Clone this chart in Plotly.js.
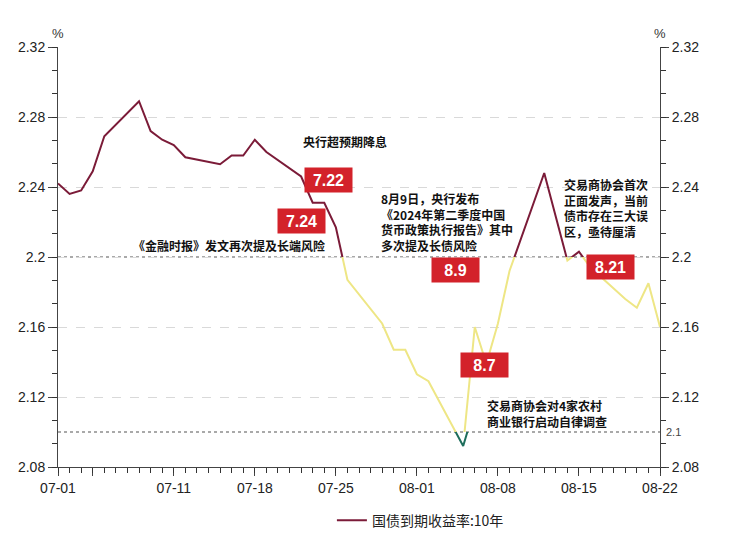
<!DOCTYPE html>
<html>
<head>
<meta charset="utf-8">
<script src="https://cdn.plot.ly/plotly-3.0.1.min.js"></script>
<style>
  body { margin: 0; background: #fff; }
  #chart { width: 734px; height: 535px; }
</style>
</head>
<body>
<div id="chart"></div>
<script>
// ----------------------------- data -----------------------------------------
var dates = [
  '2024-07-01', '2024-07-02', '2024-07-03', '2024-07-04', '2024-07-05',
  '2024-07-08', '2024-07-09', '2024-07-10', '2024-07-11', '2024-07-12',
  '2024-07-15', '2024-07-16', '2024-07-17', '2024-07-18', '2024-07-19',
  '2024-07-22', '2024-07-23', '2024-07-24', '2024-07-25', '2024-07-26',
  '2024-07-29', '2024-07-30', '2024-07-31', '2024-08-01', '2024-08-02',
  '2024-08-05', '2024-08-06', '2024-08-07', '2024-08-08', '2024-08-09',
  '2024-08-12', '2024-08-13', '2024-08-14', '2024-08-15', '2024-08-16',
  '2024-08-19', '2024-08-20', '2024-08-21', '2024-08-22'
];
var yields = [
  2.242, 2.236, 2.238, 2.249, 2.269,
  2.289, 2.272, 2.267, 2.264, 2.257,
  2.253, 2.258, 2.258, 2.267, 2.260,
  2.246, 2.231, 2.231, 2.217, 2.187,
  2.162, 2.147, 2.147, 2.133, 2.129,
  2.092, 2.160, 2.139, 2.162, 2.192,
  2.248, 2.223, 2.198, 2.203, 2.194,
  2.176, 2.171, 2.185, 2.160
];
var seriesName = '国债到期收益率:10年';

// colour bands: above 2.2, 2.1..2.2, below 2.1
var levels = [2.2, 2.1];
var bandColors = ['#7b1b38', '#eee685', '#1e6e5c'];

var xTickVals = ['2024-07-01', '2024-07-04', '2024-07-11', '2024-07-18',
                 '2024-07-25', '2024-08-01', '2024-08-08', '2024-08-15', '2024-08-22'];
var xTickText = ['07-01', '', '07-11', '07-18', '07-25', '08-01', '08-08', '08-15', '08-22'];

var flagTexts = ['7.22', '7.24', '8.9', '8.7', '8.21'];
var noteTexts = [
  '央行超预期降息',
  '《金融时报》发文再次提及长端风险',
  '8月9日，央行发布<br>《2024年第二季度中国<br>货币政策执行报告》其中<br>多次提及长债风险',
  '交易商协会首次<br>正面发声，当前<br>债市存在三大误<br>区，亟待厘清',
  '交易商协会对4家农村<br>商业银行启动自律调查'
];
// =============================================================================

var yMin = 2.08, yMax = 2.32;
var sans = 'Liberation Sans, Arial, sans-serif';
var cjk = 'Noto Sans CJK SC, sans-serif';
var tickFont = {family: sans, size: 14, color: '#222'};
var axisCol = '#444';

function frac(v) { return (v - yMin) / (yMax - yMin); }

// each band gets its own hidden y axis whose domain matches its value range,
// so the plot clip cuts the line exactly at the thresholds
var bands = [
  [levels[0], yMax],
  [levels[1], levels[0]],
  [yMin, levels[1]]
];

// invisible carriers so every helper axis gets drawn
function carrier(xa, ya) {
  return {x: dates, y: yields, xaxis: xa, yaxis: ya, mode: 'lines',
          line: {width: 0}, showlegend: false, hoverinfo: 'skip'};
}
var data = [carrier('x', 'y'), carrier('x', 'y2'), carrier('x', 'y6'),
            carrier('x', 'y7'), carrier('x2', 'y')];

function minorY(side) {
  return {
    range: [yMin, yMax], overlaying: 'y', side: side, anchor: 'x',
    tickmode: 'linear', tick0: yMin, dtick: 0.04 / 3,
    ticks: 'outside', ticklen: 5, tickcolor: '#333', tickwidth: 1,
    showticklabels: false, showgrid: false, showline: false, zeroline: false
  };
}

var layout = {
  width: 734,
  height: 535,
  margin: {l: 58, r: 74, t: 47, b: 68, autoexpand: false},
  paper_bgcolor: '#fff',
  plot_bgcolor: 'rgba(0,0,0,0)',
  showlegend: true,
  legend: {
    orientation: 'h',
    x: 0.455, xanchor: 'left',
    y: -0.128, yanchor: 'middle',
    font: {family: cjk, size: 14, color: '#222'},
    itemwidth: 30
  },
  xaxis: {
    type: 'date',
    range: ['2024-07-01', '2024-08-22'],
    anchor: 'y',
    tickmode: 'array',
    tickvals: xTickVals,
    ticktext: xTickText,
    ticks: 'outside', ticklen: 8, tickcolor: axisCol,
    showline: true, linecolor: axisCol, linewidth: 1,
    showgrid: false, zeroline: false,
    tickfont: tickFont
  },
  xaxis2: {
    type: 'date',
    range: ['2024-07-01', '2024-08-22'],
    overlaying: 'x', anchor: 'y', side: 'bottom',
    tickmode: 'linear', tick0: '2024-07-01', dtick: 86400000,
    ticks: 'outside', ticklen: 5, tickcolor: '#333', tickwidth: 1,
    showticklabels: false, showgrid: false, showline: false, zeroline: false
  },
  yaxis: {
    range: [yMin, yMax],
    domain: [0, 1],
    tickmode: 'linear', dtick: 0.04, tick0: yMin,
    ticks: 'outside', ticklen: 9, tickcolor: axisCol,
    showline: true, linecolor: axisCol, linewidth: 1,
    showgrid: true, gridcolor: '#d9d9d9', griddash: 'dash', gridwidth: 1,
    zeroline: false,
    tickfont: tickFont
  },
  yaxis2: {
    range: [yMin, yMax],
    overlaying: 'y',
    side: 'right',
    anchor: 'x',
    tickmode: 'linear', dtick: 0.04, tick0: yMin,
    ticks: 'outside', ticklen: 8, tickcolor: axisCol,
    showline: true, linecolor: axisCol, linewidth: 1,
    showgrid: false, zeroline: false,
    tickfont: tickFont
  },
  yaxis6: minorY('left'),
  yaxis7: minorY('right'),
  shapes: [],
  annotations: []
};

bands.forEach(function (b, i) {
  layout['yaxis' + (i + 3)] = {
    range: b,
    domain: [frac(b[0]), frac(b[1])],
    anchor: 'x',
    visible: false,
    fixedrange: true
  };
  data.push({
    x: dates, y: yields, yaxis: 'y' + (i + 3),
    mode: 'lines',
    name: seriesName,
    line: {color: bandColors[i], width: 2},
    showlegend: i === 0,
    hoverinfo: 'x+y'
  });
});

// dotted reference lines
levels.forEach(function (v) {
  layout.shapes.push({
    type: 'line', xref: 'paper', x0: 0, x1: 1, yref: 'y', y0: v, y1: v,
    line: {color: '#555', width: 1.2, dash: 'dot'}, layer: 'below'
  });
});

// --------------------------- annotations -------------------------------------
function px(x) { return (x - 58) / 602; }
function py(y) { return (467 - y) / 420; }

function flag(text, cx, cy) {
  layout.annotations.push({
    xref: 'paper', yref: 'paper', x: px(cx), y: py(cy),
    text: '<b>' + text + '</b>', showarrow: false,
    bgcolor: '#d3222a', width: 45, height: 22,
    font: {family: sans, size: 16, color: '#fff'}
  });
}

function note(text, x, y, anchor) {
  layout.annotations.push({
    xref: 'paper', yref: 'paper', x: px(x), y: py(y),
    xanchor: anchor, yanchor: 'middle', align: 'left',
    text: '<b>' + text + '</b>', showarrow: false,
    font: {family: cjk, size: 12, color: '#111'}
  });
}

flag(flagTexts[0], 328, 166.5);
flag(flagTexts[1], 301.5, 221);
flag(flagTexts[2], 480, 270);
flag(flagTexts[3], 509, 378);
flag(flagTexts[4], 635, 267);

note(noteTexts[0], 345, 141, 'center');
note(noteTexts[1], 229, 245, 'center');
note(noteTexts[2], 379, 222, 'left');
note(noteTexts[3], 562, 207.5, 'left');
note(noteTexts[4], 485, 413, 'left');

// units and the small 2.1 label on the right
[0, 1].forEach(function (side) {
  layout.annotations.push({
    xref: 'paper', yref: 'paper', x: side, y: py(24), xanchor: 'center',
    text: '%', showarrow: false,
    font: {family: sans, size: 13, color: '#333'}
  });
});
layout.annotations.push({
  xref: 'paper', yref: 'y', x: px(664), y: levels[1],
  xanchor: 'left', yanchor: 'middle', text: String(levels[1]), showarrow: false,
  font: {family: sans, size: 11, color: '#444'}
});

Plotly.newPlot('chart', data, layout, {displayModeBar: false, staticPlot: true});
</script>
</body>
</html>
